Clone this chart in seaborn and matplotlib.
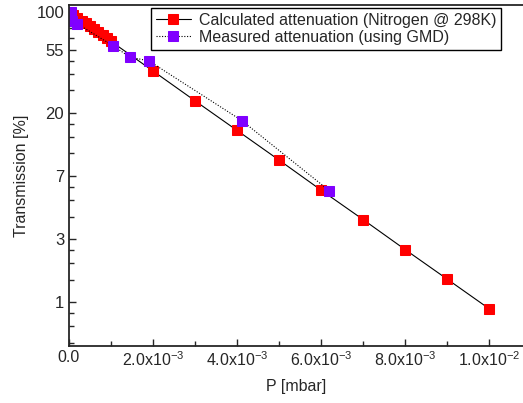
import numpy as np
import pandas as pd
import matplotlib
matplotlib.use("Agg")
import matplotlib.pyplot as plt
import seaborn as sns

# values
calc_p = [0.0, 0.1e-3, 0.2e-3, 0.3e-3, 0.4e-3, 0.5e-3, 0.6e-3, 0.7e-3, 0.8e-3, 0.9e-3, 1.0e-3,
          2e-3, 3e-3, 4e-3, 5e-3, 6e-3, 7e-3, 8e-3, 9e-3, 10e-3]
calc_t = [100, 95.4, 91.0, 86.8, 82.8, 79.0, 75.4, 71.9, 68.6, 65.4, 62.4,
          39.0, 24.3, 15.2, 9.5, 5.9, 3.7, 2.3, 1.44, 0.90]

meas_p = [0.05e-3, 0.08e-3, 0.2e-3, 1.04e-3, 1.45e-3, 1.9e-3, 4.11e-3, 6.19e-3]
meas_t = [99.0, 86.8, 82.3, 58.4, 48.6, 45.8, 17.8, 5.86]

ytick_vals = [1.0, np.e, np.e**2, np.e**3, np.e**4, 100.0]
ytick_labels = ["1", "3", "7", "20", "55", "100"]
xtick_vals = [0.0, 2e-3, 4e-3, 6e-3, 8e-3, 10e-3]
xtick_labels = ["0.0", r"2.0x10$^{-3}$", r"4.0x10$^{-3}$", r"6.0x10$^{-3}$",
                r"8.0x10$^{-3}$", r"1.0x10$^{-2}$"]

calc = pd.DataFrame({"P": calc_p, "T": calc_t})
meas = pd.DataFrame({"P": meas_p, "T": meas_t})

sns.set_style("ticks")
plt.rcParams["font.family"] = ["Liberation Sans", "DejaVu Sans"]
plt.rcParams["mathtext.default"] = "regular"

fig = plt.figure(figsize=(5.23, 4.03), dpi=100)
ax = fig.add_axes([69 / 523, 57 / 403, 454 / 523, 341 / 403])

sns.lineplot(data=calc, x="P", y="T", ax=ax, color="black", lw=0.8,
             marker="s", markersize=6.5, markerfacecolor="#ff0000",
             markeredgecolor="#ff0000", sort=False, estimator=None,
             label="Calculated attenuation (Nitrogen @ 298K)")
sns.lineplot(data=meas, x="P", y="T", ax=ax, color="black", lw=0.8,
             linestyle=(0, (1, 1.5)), marker="s", markersize=6.5,
             markerfacecolor="#8000ff", markeredgecolor="#8000ff",
             sort=False, estimator=None,
             label="Measured attenuation (using GMD)")

ax.set_yscale("log")
ax.set_xlim(0, 1.08e-2)
ax.set_ylim(0.5, 111)

ax.set_yticks(ytick_vals)
ax.set_yticklabels(ytick_labels)
# minor ticks: three evenly spaced between the major ones (Origin style)
minor_y = []
edges = [np.e**-1] + ytick_vals
for lo, hi in zip(edges[:-1], edges[1:]):
    minor_y += [lo + (hi - lo) * f for f in (0.25, 0.5, 0.75)]
ax.set_yticks(minor_y, minor=True)
ax.yaxis.set_minor_formatter(matplotlib.ticker.NullFormatter())

ax.set_xticks(xtick_vals)
ax.set_xticklabels(xtick_labels)
ax.set_xticks([1e-3, 3e-3, 5e-3, 7e-3, 9e-3], minor=True)

ax.tick_params(which="both", direction="in", labelsize=11.5, width=1.0)
ax.tick_params(axis="y", labelsize=12)
ax.tick_params(axis="x", pad=3)
ax.tick_params(which="major", length=5)
ax.tick_params(which="minor", length=3.5)
for s in ax.spines.values():
    s.set_linewidth(1.3)
ax.spines["right"].set_visible(False)

ax.set_xlabel("P [mbar]", fontsize=11.5, labelpad=7)
ax.set_ylabel("Transmission [%]", fontsize=11.5, labelpad=5)

leg = ax.legend(loc="upper right", bbox_to_anchor=(501 / 523, 1 - 8 / 403),
                bbox_transform=fig.transFigure, fontsize=11.5, frameon=True,
                fancybox=False, edgecolor="black", framealpha=1,
                borderpad=0.3, labelspacing=0.12, handlelength=2.2,
                handletextpad=0.5, borderaxespad=0)
leg.get_frame().set_linewidth(1.0)

fig.savefig("out.png", dpi=100)
